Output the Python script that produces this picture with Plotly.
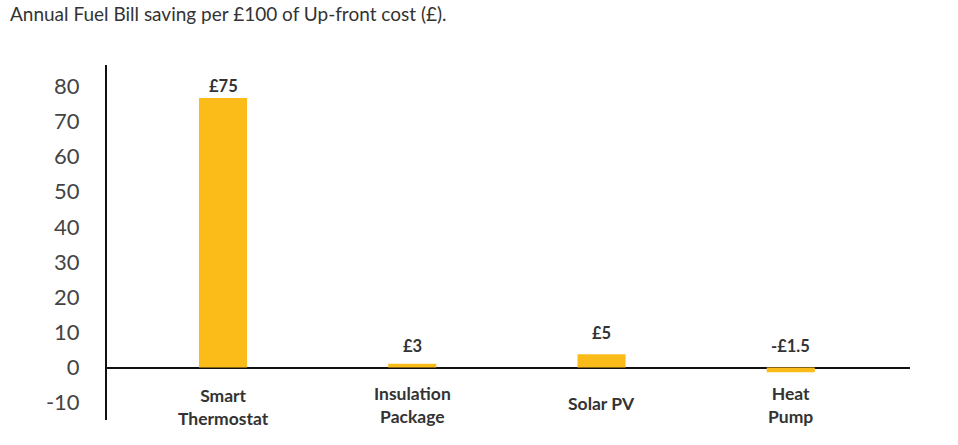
import plotly.graph_objects as go

categories = ["Smart<br>Thermostat", "Insulation<br>Package", "Solar PV", "Heat<br>Pump"]
values = [76.6, 1.1, 3.8, -1.3]
value_labels = ["£75", "£3", "£5", "-£1.5"]
tick_vals = [-10, 0, 10, 20, 30, 40, 50, 60, 70, 80]
tick_text = ["-10", "0", "10", "20", "30", "40", "50", "60", "70", "80"]

BAR = "#FBBC1A"
TXT = "#333333"
FONT = "Lato"

label_shift = [12, 18, 21, 22]
cat_shift = [-39, -37, -36, -37]

fig = go.Figure()
fig.add_trace(go.Bar(x=list(range(len(categories))), y=values, width=0.254,
                     marker=dict(color=BAR, line=dict(width=0)), hoverinfo="skip"))

ann = []
for i, (v, lab) in enumerate(zip(values, value_labels)):
    ann.append(dict(x=i, y=max(v, 0), xref="x", yref="y", text="<b>" + lab + "</b>",
                    showarrow=False, yanchor="middle", xanchor="center", yshift=label_shift[i],
                    font=dict(family=FONT, size=16.5, color=TXT)))
for i, c in enumerate(categories):
    ann.append(dict(x=i, y=0, xref="x", yref="y", text="<b>" + c + "</b>",
                    showarrow=False, yanchor="middle", xanchor="center", yshift=cat_shift[i],
                    font=dict(family=FONT, size=17.5, color=TXT)))
ann.append(dict(xref="paper", yref="paper", x=(8 - 107) / 803, y=(445 - 14 - 25) / 355,
                xanchor="left", yanchor="middle", showarrow=False,
                text="Annual Fuel Bill saving per £100 of Up-front cost (£).",
                font=dict(family=FONT, size=19, color=TXT)))

fig.update_layout(
    width=958, height=445,
    margin=dict(l=107, r=48, t=65, b=25),
    paper_bgcolor="white", plot_bgcolor="white",
    showlegend=False,
    annotations=ann,
    xaxis=dict(range=[-0.613, 3.63], showticklabels=False, showgrid=False, zeroline=False,
               showline=False, ticks=""),
    yaxis=dict(range=[-14.9, 86], tickvals=tick_vals, ticktext=tick_text, showgrid=False,
               zeroline=True, zerolinecolor="#111111", zerolinewidth=2,
               showline=True, linecolor="#111111", linewidth=2, ticks="",
               ticklabelstandoff=21,
               tickfont=dict(family=FONT, size=22, color="#444444")),
)

fig.write_html("out.html")
